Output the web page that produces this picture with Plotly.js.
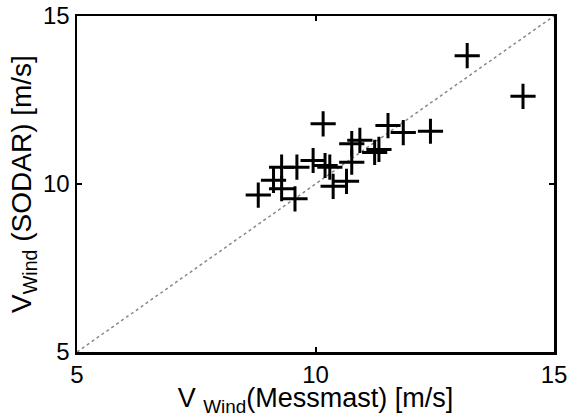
<!DOCTYPE html>
<html>
<head>
<meta charset="utf-8">
<script src="https://cdn.plot.ly/plotly-3.0.1.min.js"></script>
<style>html,body{margin:0;padding:0;background:#fff;}#chart{width:581px;height:417px;}</style>
</head>
<body>
<div id="chart"></div>
<script>
// Wind speed: met mast (x) vs SODAR (y), m/s
const messmast = [8.80, 9.12, 9.29, 9.29, 9.61, 9.57, 9.95, 10.20, 10.30, 10.16, 10.37, 10.65, 10.76, 10.93, 10.76, 11.24, 11.33, 11.52, 11.84, 12.41, 13.18, 14.35];
const sodar    = [9.67, 10.11, 9.86, 10.50, 10.50, 9.56, 10.70, 10.55, 10.50, 11.79, 9.93, 10.08, 11.20, 11.30, 10.65, 10.94, 11.03, 11.74, 11.53, 11.57, 13.82, 12.61];
const refLine = [5, 15];
const tickVals = [5, 10, 15];

const font = {family: 'Liberation Sans, Arial, sans-serif', color: '#000'};

const traces = [
  {
    x: refLine, y: refLine, mode: 'lines', type: 'scatter',
    line: {color: '#888', width: 1.5, dash: 'dot'}, hoverinfo: 'skip', showlegend: false
  },
  {
    x: messmast, y: sodar, mode: 'markers', type: 'scatter',
    marker: {symbol: 'cross-thin-open', size: 18, color: '#000', line: {color: '#000', width: 3}},
    showlegend: false
  }
];

const axisCommon = {
  range: [5, 15], tickvals: tickVals, ticktext: tickVals.map(String),
  showgrid: false, zeroline: false, showline: true, linecolor: '#000', linewidth: 2.5,
  mirror: 'ticks', ticks: 'inside', ticklen: 5, tickwidth: 2, tickcolor: '#000',
  tickfont: Object.assign({size: 24}, font), automargin: false
};

const layout = {
  width: 581, height: 417,
  margin: {l: 77, r: 27, t: 16, b: 65},
  paper_bgcolor: '#fff', plot_bgcolor: '#fff',
  font: font,
  xaxis: Object.assign({}, axisCommon, {
    ticklabelstandoff: 0,
    title: {text: 'V <sub>Wind</sub>(Messmast) [m/s]', font: Object.assign({size: 27}, font), standoff: 3}
  }),
  yaxis: Object.assign({}, axisCommon, {
    title: {text: 'V<sub>Wind</sub> (SODAR) [m/s]', font: Object.assign({size: 28}, font), standoff: 3}
  })
};

Plotly.newPlot('chart', traces, layout, {displayModeBar: false, staticPlot: true});
</script>
</body>
</html>
